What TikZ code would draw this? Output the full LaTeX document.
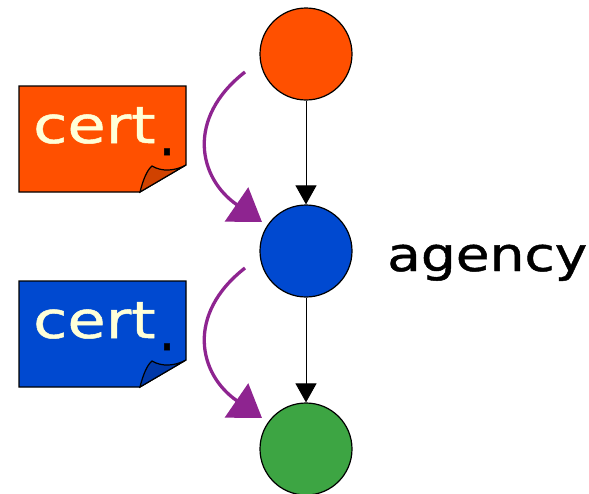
\documentclass[tikz,border=0pt]{standalone}
\usepackage{fontspec}
\setmainfont{DejaVu Sans}
\usetikzlibrary{arrows.meta}
\definecolor{corange}{HTML}{FF5000}
\definecolor{corangedark}{HTML}{D04200}
\definecolor{cblue}{HTML}{0049D0}
\definecolor{cbluedark}{HTML}{0038A8}
\definecolor{cgreen}{HTML}{3DA543}
\definecolor{cpurple}{HTML}{8E2490}
\definecolor{ccream}{HTML}{FFFFD8}
\tikzset{
  statenode/.style={circle, draw=black, line width=1.2pt, minimum size=92pt, inner sep=0pt},
  flowarrow/.style={-{Triangle[length=19pt,width=21pt]}, line width=1pt, draw=black},
  certarrow/.style={-{Triangle[length=31pt,width=41pt]}, line width=3.3pt, draw=cpurple, color=cpurple},
  certtext/.style={text=ccream, font=\fontsize{51}{55}\selectfont\addfontfeatures{FakeStretch=1.22,FakeBold=1}, anchor=base west, inner sep=0pt},
  certdot/.style={text=black, font=\fontsize{51}{55}\selectfont\addfontfeatures{FakeBold=1}, anchor=base, inner sep=0pt},
  cardoutline/.style={draw=black, line width=1.2pt},
  agencytext/.style={text=black, font=\fontsize{47}{50}\selectfont\addfontfeatures{FakeStretch=1.17,FakeBold=1}, anchor=base west, inner sep=0pt}
}
\begin{document}
\begin{tikzpicture}[x=1pt,y=-1pt]
\useasboundingbox (0,0) rectangle (589,493);
% state nodes
\node[statenode, fill=corange] (top) at (306,54) {};
\node[statenode, fill=cblue] (mid) at (306,251) {};
\node[statenode, fill=cgreen] (bot) at (306,449) {};
\draw[flowarrow] (top) -- (mid);
\draw[flowarrow] (mid) -- (bot);
% certificate 1
\filldraw[cardoutline, fill=corange] (19,86) -- (186,86) -- (186,165) -- (140,192) -- (19,192) -- cycle;
\filldraw[cardoutline, fill=corangedark] (140,192) .. controls (143,180) and (147,170) .. (152,166) .. controls (162,172) and (175,171) .. (186,165) -- cycle;
\node[certtext] (c1) at (33,143) {cert};
\node[certdot] (d1) at (167,155) {.};
% certificate 2
\filldraw[cardoutline, fill=cblue] (19,281) -- (186,281) -- (186,360) -- (140,387) -- (19,387) -- cycle;
\filldraw[cardoutline, fill=cbluedark] (140,387) .. controls (143,375) and (147,365) .. (152,361) .. controls (162,367) and (175,366) .. (186,360) -- cycle;
\node[certtext] (c2) at (33,338) {cert};
\node[certdot] (d2) at (167,350) {.};
% purple arrows
\coordinate (p1s) at (245,72);
\coordinate (p1e) at (262,222);
\coordinate (p2s) at (245,268);
\coordinate (p2e) at (262,418);
\draw[certarrow] (p1s) .. controls (186,118) and (198,178) .. (p1e);
\draw[certarrow] (p2s) .. controls (186,314) and (198,374) .. (p2e);
% label
\node[agencytext] (ag) at (387,271) {agency};
\end{tikzpicture}
\end{document}
